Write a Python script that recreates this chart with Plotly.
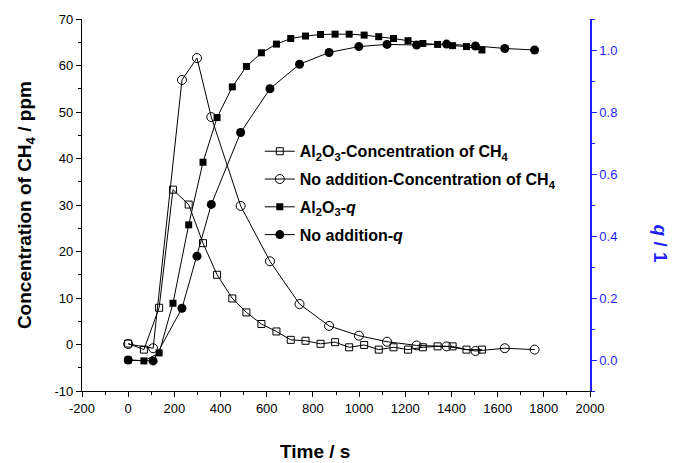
import plotly.graph_objects as go

# ---- data ----
t_al = [0, 68, 134, 194, 262, 324, 385, 451, 512, 577, 642, 704, 768, 833, 896,
        957, 1022, 1085, 1149, 1212, 1276, 1340, 1405, 1465, 1532]
c_al = [0.2, -1.1, 7.9, 33.3, 30.1, 21.8, 15.0, 9.9, 6.9, 4.4, 2.8, 1.0, 0.8, 0.15, 0.5,
        -0.6, -0.1, -1.1, -0.6, -1.1, -0.6, -0.4, -0.4, -1.1, -1.1]
q_al = [0.0, -0.003, 0.023, 0.183, 0.436, 0.638, 0.782, 0.881, 0.947, 0.991, 1.019, 1.037,
        1.045, 1.050, 1.051, 1.051, 1.048, 1.043, 1.037, 1.030, 1.021, 1.018, 1.014, 1.011, 1.0]

t_no = [0, 108, 233, 298, 360, 487, 614, 742, 870, 999, 1121, 1249, 1379, 1504, 1631, 1760]
c_no = [0.1, -0.8, 56.9, 61.6, 48.9, 29.8, 17.9, 8.7, 4.0, 1.9, 0.6, -0.2, -0.4, -1.4, -0.8, -1.1]
q_no = [0.0, -0.003, 0.167, 0.335, 0.502, 0.734, 0.875, 0.954, 0.992, 1.011, 1.018, 1.016,
        1.019, 1.013, 1.005, 1.0]

# tick labels (plain hyphen minus as in the reference)
x_ticks = [-200, 0, 200, 400, 600, 800, 1000, 1200, 1400, 1600, 1800, 2000]
x_ticktext = ["-200", "0", "200", "400", "600", "800", "1000", "1200", "1400", "1600", "1800", "2000"]
y_ticks = [-10, 0, 10, 20, 30, 40, 50, 60, 70]
y_ticktext = ["-10", "0", "10", "20", "30", "40", "50", "60", "70"]
q_ticks = [0.0, 0.2, 0.4, 0.6, 0.8, 1.0]
q_ticktext = ["0.0", "0.2", "0.4", "0.6", "0.8", "1.0"]

names = ["Al<sub>2</sub>O<sub>3</sub>-Concentration of CH<sub>4</sub>",
         "No addition-Concentration of CH<sub>4</sub>",
         "Al<sub>2</sub>O<sub>3</sub>-<i>q</i>",
         "No addition-<i>q</i>"]

FONT = "Arial, Liberation Sans, Helvetica, sans-serif"
BLUE = "#1f1fff"

fig = go.Figure()
line = dict(color="black", width=1)
fig.add_trace(go.Scatter(x=t_al, y=c_al, mode="lines+markers", name=names[0], line=line,
                         marker=dict(symbol="square-open", size=7, color="black", line=dict(width=1)),
                         legendgroup="a", yaxis="y"))
fig.add_trace(go.Scatter(x=t_no, y=c_no, mode="lines+markers", name=names[1], line=line,
                         marker=dict(symbol="circle-open", size=9, color="black", line=dict(width=1)),
                         legendgroup="b", yaxis="y"))
fig.add_trace(go.Scatter(x=t_al, y=q_al, mode="lines+markers", name=names[2], line=line,
                         marker=dict(symbol="square", size=7, color="black"),
                         legendgroup="c", yaxis="y2"))
fig.add_trace(go.Scatter(x=t_no, y=q_no, mode="lines+markers", name=names[3], line=line,
                         marker=dict(symbol="circle", size=9, color="black"),
                         legendgroup="d", yaxis="y2"))

axis_common = dict(showgrid=False, zeroline=False, showline=True, linewidth=1.2,
                   tickfont=dict(family=FONT, size=13))

fig.update_layout(
    width=674, height=463,
    margin=dict(l=82, r=84, t=15, b=72),
    paper_bgcolor="white", plot_bgcolor="white",
    font=dict(family=FONT, color="black"),
    xaxis=dict(range=[-200, 2000], tickmode="array", tickvals=x_ticks, ticktext=x_ticktext,
               ticks="outside", ticklen=5, linecolor="black", tickcolor="black",
               minor=dict(ticks="outside", ticklen=3, dtick=100, tick0=0, tickcolor="black"),
               **axis_common),
    xaxis2=dict(range=[-200, 2000], overlaying="x", side="top", matches="x", dtick=200, tick0=0,
                ticks="inside", ticklen=5, showticklabels=False, linecolor="black", tickcolor="black",
                minor=dict(ticks="inside", ticklen=3, dtick=100, tickcolor="black"),
                showgrid=False, zeroline=False, showline=True, linewidth=1.2),
    yaxis=dict(range=[-10, 70], tickmode="array", tickvals=y_ticks, ticktext=y_ticktext,
               ticks="outside", ticklen=5, linecolor="black", tickcolor="black",
               minor=dict(ticks="outside", ticklen=3, dtick=5, tick0=0, tickcolor="black"),
               **axis_common),
    yaxis2=dict(range=[-0.1, 1.1], tickmode="array", tickvals=q_ticks, ticktext=q_ticktext,
                overlaying="y", side="right", ticks="outside", ticklen=5,
                linecolor=BLUE, tickcolor=BLUE, color=BLUE,
                minor=dict(ticks="outside", ticklen=3, dtick=0.1, tick0=0, tickcolor=BLUE),
                showgrid=False, zeroline=False, showline=True, linewidth=1.5,
                tickfont=dict(family=FONT, size=13, color=BLUE)),
    legend=dict(x=0.35, y=0.69, xanchor="left", yanchor="top", bgcolor="rgba(0,0,0,0)",
                font=dict(family=FONT, size=16, weight="bold", color="black"),
                tracegroupgap=4, itemwidth=30),
    showlegend=True,
)

fig.add_annotation(text="<b>Concentration of CH<sub>4</sub> / ppm</b>", xref="paper", yref="paper",
                   x=-0.11, y=0.5, textangle=-90, showarrow=False, xanchor="center", yanchor="middle",
                   font=dict(family=FONT, size=19, color="black"))
fig.add_annotation(text="<b>Time / s</b>", xref="paper", yref="paper",
                   x=0.459, y=-0.162, showarrow=False, xanchor="center", yanchor="middle",
                   font=dict(family=FONT, size=19, color="black"))
fig.add_annotation(text="<b><i>q</i> / 1</b>", xref="paper", yref="paper",
                   x=1.138, y=0.396, textangle=90, showarrow=False, xanchor="center", yanchor="middle",
                   font=dict(family=FONT, size=19, color=BLUE))

fig.write_html("out.html")
